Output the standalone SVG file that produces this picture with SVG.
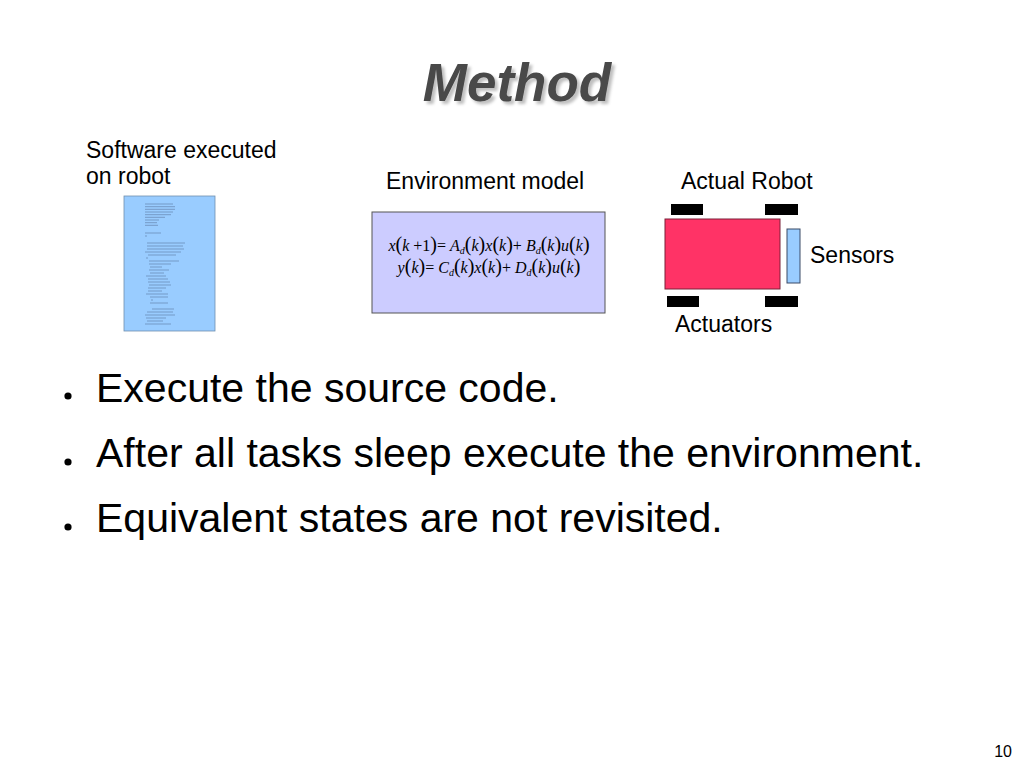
<svg xmlns="http://www.w3.org/2000/svg" width="1023" height="767" viewBox="0 0 1023 767">
<defs>
<style>
.lbl{font-family:"Liberation Sans",Arial,sans-serif;font-size:23px;fill:#000}
.bul{font-family:"Liberation Sans",Arial,sans-serif;font-size:41px;fill:#000}
.eq{font-family:"Liberation Serif","Times New Roman",serif;font-size:16px;font-style:italic;fill:#000}
.rm{font-style:normal}
.p{font-style:normal;font-size:20px}
.sub{font-size:10px}
.wheel{fill:#000}
</style>
<filter id="sh" x="-10%" y="-10%" width="130%" height="140%">
<feGaussianBlur in="SourceAlpha" stdDeviation="1.5"/>
<feOffset dx="3" dy="3" result="b"/>
<feFlood flood-color="#000" flood-opacity="0.25"/>
<feComposite in2="b" operator="in"/>
<feMerge><feMergeNode/><feMergeNode in="SourceGraphic"/></feMerge>
</filter>
</defs>
<rect width="1023" height="767" fill="#fff"/>
<g id="title">
<text x="517" y="101" text-anchor="middle" filter="url(#sh)" style="font-family:'Liberation Sans',Arial,sans-serif;font-size:53px;font-weight:bold;font-style:italic;fill:#4a4a4a">Method</text>
</g>
<g id="software">
<text class="lbl" x="86" y="158">Software executed</text>
<text class="lbl" x="86" y="184">on robot</text>
<rect x="124" y="196" width="91" height="135" fill="#99ccff" stroke="#6f8fae" stroke-width="0.8"/>
<path stroke="#4a5d80" stroke-width="0.9" stroke-opacity="0.5" fill="none" d="M145 204h28M145 206.7h30M145 209.3h30M145 212h28M145 214.7h26M145 217.3h20M145 220h14M145 222.7h12M145 225.3h13M145 233h16M145 236h2M147 243h38M147 246h36M147 249h37M145 252h36M148 255h28M146 258h2M149 261h30M149 264h22M150 267h12M149 270h20M150 273h14M146 276h20M148 279h20M148 282h22M149 285h22M148 288h18M148 291h14M146 294h22M150 297h18M151 300h2M150 303h18M152 309h22M147 312h26M145 315h30M146 318h20M147 321h16M145 324h26"/>
</g>
<g id="environment">
<text class="lbl" x="386" y="189">Environment model</text>
<rect x="372" y="212" width="233" height="101" fill="#ccccff" stroke="#555" stroke-width="1"/>
<text class="eq" x="489" y="251" text-anchor="middle">x<tspan class="p">(</tspan>k <tspan class="rm">+1</tspan><tspan class="p">)</tspan><tspan class="rm">= </tspan>A<tspan class="sub" dy="3">d</tspan><tspan class="p" dy="-3">(</tspan>k<tspan class="p">)</tspan>x<tspan class="p">(</tspan>k<tspan class="p">)</tspan><tspan class="rm">+ </tspan>B<tspan class="sub" dy="3">d</tspan><tspan class="p" dy="-3">(</tspan>k<tspan class="p">)</tspan>u<tspan class="p">(</tspan>k<tspan class="p">)</tspan></text>
<text class="eq" x="489" y="273" text-anchor="middle">y<tspan class="p">(</tspan>k<tspan class="p">)</tspan><tspan class="rm">= </tspan>C<tspan class="sub" dy="3">d</tspan><tspan class="p" dy="-3">(</tspan>k<tspan class="p">)</tspan>x<tspan class="p">(</tspan>k<tspan class="p">)</tspan><tspan class="rm">+ </tspan>D<tspan class="sub" dy="3">d</tspan><tspan class="p" dy="-3">(</tspan>k<tspan class="p">)</tspan>u<tspan class="p">(</tspan>k<tspan class="p">)</tspan></text>
</g>
<g id="robot">
<text class="lbl" x="681" y="189">Actual Robot</text>
<rect class="wheel" x="671" y="204" width="32" height="11"/>
<rect class="wheel" x="765" y="204" width="33" height="11"/>
<rect class="wheel" x="667" y="296" width="32" height="11"/>
<rect class="wheel" x="765" y="296" width="33" height="11"/>
<rect x="665" y="219" width="115" height="70" fill="#ff3366" stroke="#7a2038" stroke-width="1"/>
</g>
<g id="sensors">
<rect x="787" y="229" width="13" height="54" fill="#99ccff" stroke="#3a4a66" stroke-width="1"/>
<text class="lbl" x="810" y="263">Sensors</text>
</g>
<g id="actuators">
<text class="lbl" x="675" y="332">Actuators</text>
</g>
<g id="bullets">
<circle cx="68" cy="396" r="3.6" fill="#000"/>
<text class="bul" x="96" y="402">Execute the source code.</text>
<circle cx="68" cy="462" r="3.6" fill="#000"/>
<text class="bul" x="96" y="467">After all tasks sleep execute the environment.</text>
<circle cx="68" cy="527" r="3.6" fill="#000"/>
<text class="bul" x="96" y="532">Equivalent states are not revisited.</text>
</g>
<text x="1012" y="757" text-anchor="end" style="font-family:'Liberation Sans',Arial,sans-serif;font-size:16px;fill:#000">10</text>
</svg>
